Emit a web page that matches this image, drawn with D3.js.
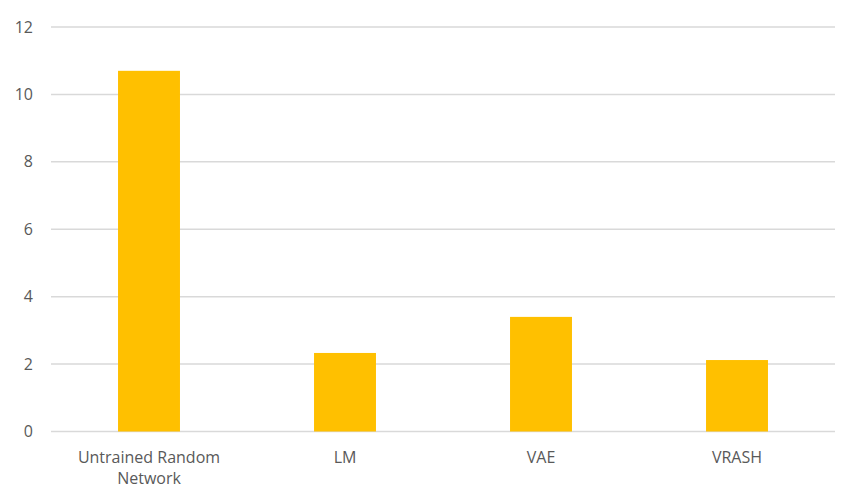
<!DOCTYPE html>
<html>
<head>
<meta charset="utf-8">
<script src="https://cdn.jsdelivr.net/npm/d3@7"></script>
<style>
  body { margin: 0; background: #fff; }
  svg { display: block; }
  text { font-family: "Open Sans", "Liberation Sans", sans-serif; fill: #595959; }
</style>
</head>
<body>
<svg id="chart" width="863" height="504"></svg>
<script>
// values
const categories = ["Untrained Random Network", "LM", "VAE", "VRASH"];
const values = [10.7, 2.33, 3.4, 2.12];
const yTicks = [0, 2, 4, 6, 8, 10, 12];

const svg = d3.select("#chart");
const margin = { top: 27, right: 28, bottom: 72.5, left: 51 };
const width = 863 - margin.left - margin.right;
const height = 504 - margin.top - margin.bottom;

const g = svg.append("g").attr("transform", `translate(${margin.left},${margin.top})`);

const x = d3.scaleBand().domain(categories).range([0, width]).padding(0);
const y = d3.scaleLinear().domain([0, 12]).range([height, 0]);

// gridlines
g.selectAll("line.grid")
  .data(yTicks)
  .enter()
  .append("line")
  .attr("class", "grid")
  .attr("x1", 0)
  .attr("x2", width)
  .attr("y1", d => y(d))
  .attr("y2", d => y(d))
  .attr("stroke", "#d9d9d9")
  .attr("stroke-width", 1.5);

// y tick labels
g.selectAll("text.ytick")
  .data(yTicks)
  .enter()
  .append("text")
  .attr("class", "ytick")
  .attr("x", -18)
  .attr("y", d => y(d))
  .attr("dy", "0.35em")
  .attr("text-anchor", "end")
  .style("font-size", "16px")
  .text(d => d);

// bars
const barW = x.bandwidth() * 0.316;
g.selectAll("rect")
  .data(values)
  .enter()
  .append("rect")
  .attr("x", (d, i) => x(categories[i]) + x.bandwidth() / 2 - barW / 2)
  .attr("y", d => y(d))
  .attr("width", barW)
  .attr("height", d => y(0) - y(d))
  .attr("fill", "#ffc000");

// category labels, wrapped like the original
const lines = { "Untrained Random Network": ["Untrained Random", "Network"] };
categories.forEach(c => {
  const t = g.append("text")
    .attr("x", x(c) + x.bandwidth() / 2)
    .attr("y", height + 31)
    .attr("text-anchor", "middle")
    .style("font-size", "16px");
  (lines[c] || [c]).forEach((l, i) => {
    t.append("tspan")
      .attr("x", x(c) + x.bandwidth() / 2)
      .attr("dy", i === 0 ? 0 : 21)
      .text(l);
  });
});
</script>
</body>
</html>
